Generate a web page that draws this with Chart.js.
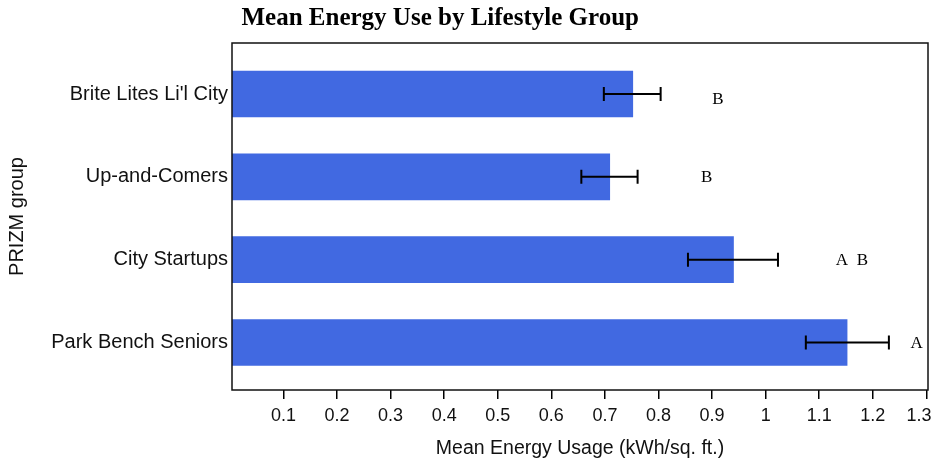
<!DOCTYPE html>
<html>
<head>
<meta charset="utf-8">
<script src="https://cdn.jsdelivr.net/npm/chart.js@4"></script>
<style>
html,body{margin:0;padding:0;background:#fff;}
#wrap{width:938px;height:460px;}
</style>
</head>
<body>
<div id="wrap"><canvas id="c" width="938" height="460"></canvas></div>
<script>
const chartTitle = "Mean Energy Use by Lifestyle Group";
const categories = ["Brite Lites Li'l City", "Up-and-Comers", "City Startups", "Park Bench Seniors"];
const means = [0.752, 0.709, 0.940, 1.152];
const errLow = [0.698, 0.656, 0.855, 1.075];
const errHigh = [0.804, 0.761, 1.023, 1.230];
const groupLetters = ["B", "B", "A  B", "A"];
const letterX = [0.911, 0.890, 1.161, 1.282];
const letterYShift = [0.06, 0, 0, 0];
const xTicks = [0.1, 0.2, 0.3, 0.4, 0.5, 0.6, 0.7, 0.8, 0.9, 1.0, 1.1, 1.2, 1.3];
const xTitle = "Mean Energy Usage (kWh/sq. ft.)";
const yTitle = "PRIZM group";

const SANS = "'Liberation Sans', Arial, sans-serif";
const SERIF = "'Liberation Serif', 'Times New Roman', serif";

const overlay = {
  id: 'overlay',
  afterDatasetsDraw(chart) {
    const ctx = chart.ctx;
    const xs = chart.scales.x, ys = chart.scales.y;
    const a = chart.chartArea;
    ctx.save();
    ctx.strokeStyle = '#000';
    ctx.lineWidth = 2;
    for (let i = 0; i < means.length; i++) {
      const y = ys.getPixelForValue(i);
      const x1 = xs.getPixelForValue(errLow[i]);
      const x2 = xs.getPixelForValue(errHigh[i]);
      ctx.beginPath();
      ctx.moveTo(x1, y); ctx.lineTo(x2, y);
      ctx.moveTo(x1, y - 7); ctx.lineTo(x1, y + 7);
      ctx.moveTo(x2, y - 7); ctx.lineTo(x2, y + 7);
      ctx.stroke();
    }
    ctx.fillStyle = '#000';
    ctx.font = "17px " + SERIF;
    ctx.textAlign = 'center';
    ctx.textBaseline = 'middle';
    for (let i = 0; i < groupLetters.length; i++) {
      ctx.fillText(groupLetters[i], xs.getPixelForValue(letterX[i]), ys.getPixelForValue(i + letterYShift[i]) + 1);
    }
    ctx.lineWidth = 1.5;
    ctx.strokeStyle = '#111';
    ctx.strokeRect(a.left, a.top, a.right - a.left, a.bottom - a.top);
    ctx.font = "bold 25px " + SERIF;
    ctx.textAlign = 'left';
    ctx.textBaseline = 'alphabetic';
    ctx.fillText(chartTitle, 241.5, 25);
    ctx.restore();
  }
};

new Chart(document.getElementById('c'), {
  type: 'bar',
  data: {
    datasets: [{
      data: means.map((v, i) => ({ x: v, y: i })),
      backgroundColor: '#4169E1',
      borderWidth: 0,
      barThickness: 46
    }]
  },
  options: {
    indexAxis: 'y',
    responsive: false,
    animation: false,
    events: [],
    layout: { padding: { top: 43, right: 10, left: 0, bottom: 0 } },
    plugins: { legend: { display: false }, title: { display: false }, tooltip: { enabled: false } },
    scales: {
      x: {
        type: 'linear',
        position: 'bottom',
        min: 0.004,
        max: 1.303,
        afterBuildTicks(scale) { scale.ticks = xTicks.map(v => ({ value: v })); },
        afterFit(scale) { scale.height = 70; scale.paddingRight = 0; scale.paddingLeft = 0; },
        grid: { display: true, drawOnChartArea: false, drawTicks: true, tickLength: 9, color: '#000', lineWidth: 1.5 },
        border: { display: false },
        ticks: {
          color: '#111',
          padding: 6,
          maxRotation: 0,
          autoSkip: false,
          font: { family: SANS, size: 18 },
          callback(v) {
            const s = String(Number(v.toFixed(1)));
            return v > 1.25 ? s + '\u00a0\u00a0\u00a0' : s;
          }
        },
        title: { display: true, text: xTitle, color: '#111', font: { family: SANS, size: 19.5 }, padding: { top: 2, bottom: 0 } }
      },
      y: {
        type: 'linear',
        reverse: true,
        offset: false,
        bounds: 'data',
        grace: 0,
        min: -0.616,
        max: 3.573,
        afterDataLimits(scale) { scale.min = -0.616; scale.max = 3.573; },
        afterBuildTicks(scale) { scale.ticks = categories.map((c, i) => ({ value: i })); },
        afterFit(scale) { scale.width = 232; scale.paddingTop = 0; scale.paddingBottom = 0; },
        grid: { display: false, drawTicks: false, offset: false },
        border: { display: false },
        ticks: {
          color: '#111',
          padding: 4,
          autoSkip: false,
          font: { family: SANS, size: 20 },
          callback(v) { return categories[v] !== undefined ? categories[v] : ''; }
        },
        title: { display: true, text: yTitle, color: '#111', font: { family: SANS, size: 20 }, padding: { top: 5, bottom: 0 } }
      }
    }
  },
  plugins: [overlay]
});
</script>
</body>
</html>
